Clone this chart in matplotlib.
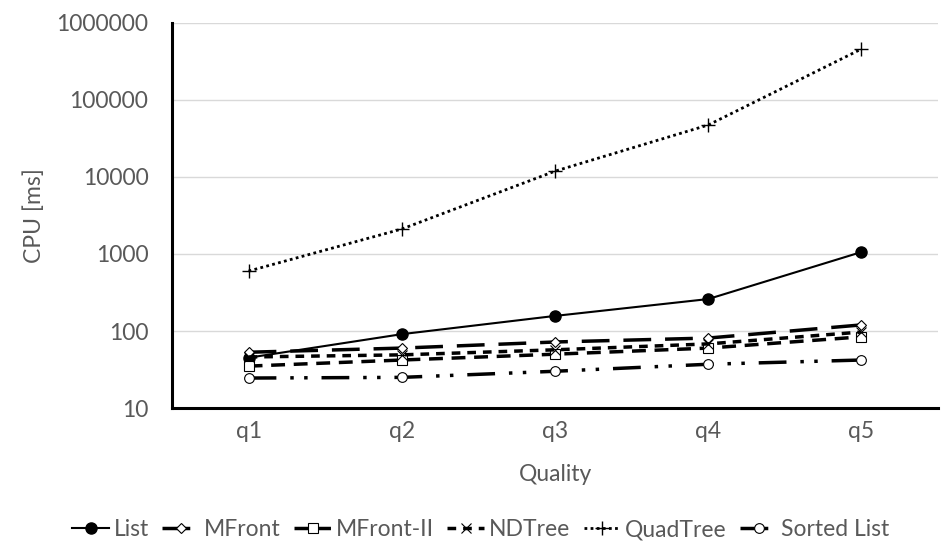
import matplotlib
matplotlib.use("Agg")
import matplotlib.pyplot as plt
from matplotlib.ticker import FixedLocator, FuncFormatter

categories = ["q1", "q2", "q3", "q4", "q5"]
list_vals = [45, 91, 157, 260, 1060]
mfront = [53, 60, 72, 81, 120]
mfront2 = [35, 42, 50, 60, 84]
ndtree = [46, 49, 57, 68, 97]
quadtree = [600, 2110, 11900, 47300, 459000]
sorted_list = [24.5, 25, 30, 37, 42]

plt.rcParams['font.family'] = ['Lato', 'DejaVu Sans']
txt = '#595959'
fs = 16.5

fig = plt.figure(figsize=(9.43, 5.59), dpi=100)
ax = fig.add_axes([0.1824, 0.2701, 0.8123, 0.6888])
x = list(range(len(categories)))

ax.plot(x, list_vals, '-', color='black', lw=1.5, marker='o', ms=8, mfc='black', label='List')
ax.plot(x, mfront, color='black', lw=2.5, dashes=(8, 4), marker='D', ms=5, mfc='white', mew=0.8, label='MFront')
ax.plot(x, mfront2, color='black', lw=2.5, dashes=(4, 2.5), marker='s', ms=7, mfc='white', mew=0.8, label='MFront-II')
ax.plot(x, ndtree, color='black', lw=2.5, dashes=(2.5, 2), marker='x', ms=7, mew=0.8, label='NDTree')
ax.plot(x, quadtree, color='black', lw=2, dashes=(1, 1.2), marker='+', ms=10, mew=1, label='QuadTree')
ax.plot(x, sorted_list, color='black', lw=2.5, dashes=(8, 4, 1, 3, 1, 4), marker='o', ms=7, mfc='white', mew=0.8, label='Sorted List')

ax.set_yscale('log')
ax.set_ylim(10, 1000000)
ax.set_xlim(-0.5, 4.5)
ax.yaxis.set_major_locator(FixedLocator([10, 100, 1000, 10000, 100000, 1000000]))
ax.yaxis.set_minor_locator(FixedLocator([]))
ax.yaxis.set_major_formatter(FuncFormatter(lambda v, p: f"{int(round(v))}"))
ax.set_xticks(x)
ax.set_xticklabels(categories)
ax.tick_params(axis='both', length=0, labelsize=fs, labelcolor=txt)
ax.tick_params(axis='x', pad=9)
ax.tick_params(axis='y', pad=17)
ax.grid(axis='y', color='#d9d9d9', lw=1)
ax.set_axisbelow(True)
for s in ['top', 'right']:
    ax.spines[s].set_visible(False)
ax.spines['left'].set_linewidth(2.2)
ax.spines['bottom'].set_linewidth(2.2)
ax.set_ylabel('CPU [ms]', fontsize=fs, color=txt, labelpad=8)
ax.set_xlabel('Quality', fontsize=fs, color=txt, labelpad=16)

leg = fig.legend(loc='center', bbox_to_anchor=(0.51, 0.052), ncol=6, frameon=False,
                 fontsize=fs, handlelength=1.6, columnspacing=0.6, handletextpad=0.2)
for t in leg.get_texts():
    t.set_color(txt)

fig.savefig('out.png', dpi=100)
